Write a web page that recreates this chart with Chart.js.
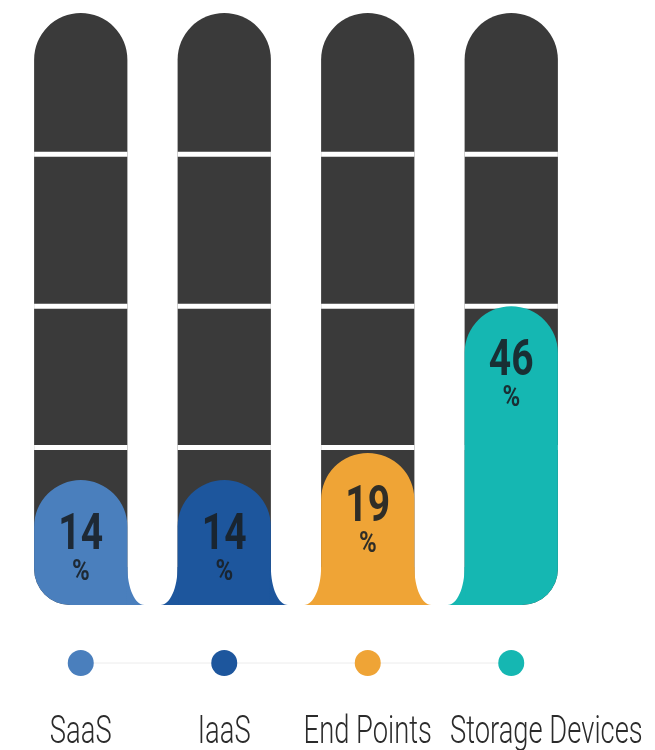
<!DOCTYPE html>
<html>
<head>
<meta charset="utf-8">
<script src="https://cdn.jsdelivr.net/npm/chart.js@4.4.1/dist/chart.umd.min.js"></script>
<style>
  html, body { margin: 0; padding: 0; background: #fff; }
  #wrap { width: 655px; height: 750px; }
</style>
</head>
<body>
<div id="wrap"><canvas id="chartShare" width="655" height="750"></canvas></div>
<script>
// Data
const categories = ['SaaS', 'IaaS', 'End Points', 'Storage Devices'];
const shares = [14, 14, 19, 46];
const fullScale = [100, 100, 100, 100];
const segmentTicks = [20, 46, 74];

// Style
const barColors = ['#4a7fbd', '#1d569d', '#efa436', '#15b7b2'];
const trackColor = '#3a3a3a';
const axisFloor = -9;
const labelFont = 'Roboto, "DejaVu Sans", sans-serif';

function cornerRadius(ctx) {
  const last = categories.length - 1;
  return {
    topLeft: 60, topRight: 60,
    bottomLeft: ctx.dataIndex === 0 ? 36 : 0,
    bottomRight: ctx.dataIndex === last ? 36 : 0
  };
}

// text squeezed horizontally to mimic a condensed face
function narrowText(c, text, x, y, squeeze) {
  c.save();
  c.translate(x, y);
  c.scale(squeeze, 1);
  c.fillText(text, 0, 0);
  c.restore();
}

const decorPlugin = {
  id: 'decor',
  afterDatasetDraw(chart, args) {
    const c = chart.ctx;
    const yScale = chart.scales.y;
    if (args.index === 1) {
      // white seams across the dark tracks
      c.save();
      c.strokeStyle = '#ffffff';
      c.lineWidth = 5;
      args.meta.data.forEach(bar => {
        const p = bar.getProps(['x', 'width'], true);
        segmentTicks.forEach(v => {
          const y = yScale.getPixelForValue(v);
          c.beginPath();
          c.moveTo(p.x - p.width / 2, y);
          c.lineTo(p.x + p.width / 2, y);
          c.stroke();
        });
      });
      c.restore();
    }
    if (args.index === 0) {
      const last = args.meta.data.length - 1;
      c.save();
      args.meta.data.forEach((bar, i) => {
        const p = bar.getProps(['x', 'y', 'base', 'width'], true);
        const left = p.x - p.width / 2;
        const right = p.x + p.width / 2;
        const fw = 17, fh = 38;
        c.fillStyle = barColors[i];
        // flared feet
        if (i > 0) {
          c.beginPath();
          c.moveTo(left + 1, p.base - fh);
          c.lineTo(left, p.base - fh);
          c.bezierCurveTo(left, p.base - fh * 0.45, left - fw * 0.45, p.base, left - fw, p.base);
          c.lineTo(left + 1, p.base);
          c.closePath();
          c.fill();
        }
        if (i < last) {
          c.beginPath();
          c.moveTo(right - 1, p.base - fh);
          c.lineTo(right, p.base - fh);
          c.bezierCurveTo(right, p.base - fh * 0.45, right + fw * 0.45, p.base, right + fw, p.base);
          c.lineTo(right - 1, p.base);
          c.closePath();
          c.fill();
        }
        // value labels
        c.fillStyle = 'rgba(26, 32, 38, 0.9)';
        c.textAlign = 'center';
        c.textBaseline = 'middle';
        c.font = 'bold 50px ' + labelFont;
        narrowText(c, String(shares[i]), p.x, p.y + 56, 0.78);
        c.font = 'bold 30px ' + labelFont;
        narrowText(c, '%', p.x, p.y + 92, 0.8);
      });
      c.restore();
    }
  },
  afterDraw(chart) {
    const c = chart.ctx;
    const bars = chart.getDatasetMeta(0).data;
    const dotY = 663;
    const labelY = 743;
    const squeeze = 0.72;
    const gap = 18;
    c.save();
    // connector line
    c.strokeStyle = '#ececec';
    c.lineWidth = 1;
    c.beginPath();
    c.moveTo(bars[0].x, dotY);
    c.lineTo(bars[bars.length - 1].x, dotY);
    c.stroke();
    let prevRight = -Infinity;
    bars.forEach((bar, i) => {
      c.fillStyle = barColors[i];
      c.beginPath();
      c.arc(bar.x, dotY, 13, 0, Math.PI * 2);
      c.fill();
      c.font = '300 38px ' + labelFont;
      c.fillStyle = '#2b2b2b';
      c.textAlign = 'center';
      c.textBaseline = 'alphabetic';
      const w = c.measureText(categories[i]).width * squeeze;
      // keep neighbouring labels from running into each other
      const cx = Math.max(bar.x, prevRight + gap + w / 2);
      prevRight = cx + w / 2;
      narrowText(c, categories[i], cx, labelY, squeeze);
    });
    c.restore();
  }
};

new Chart(document.getElementById('chartShare'), {
  type: 'bar',
  data: {
    labels: categories,
    datasets: [
      {
        label: 'Share',
        data: shares,
        backgroundColor: barColors,
        borderWidth: 0,
        borderSkipped: false,
        borderRadius: cornerRadius,
        base: axisFloor,
        grouped: false,
        order: 1,
        barPercentage: 0.65,
        categoryPercentage: 1
      },
      {
        label: 'Track',
        data: fullScale,
        backgroundColor: trackColor,
        borderWidth: 0,
        borderSkipped: false,
        borderRadius: cornerRadius,
        base: axisFloor,
        grouped: false,
        order: 2,
        barPercentage: 0.65,
        categoryPercentage: 1
      }
    ]
  },
  options: {
    responsive: false,
    animation: false,
    devicePixelRatio: 1,
    layout: { padding: { top: 13, bottom: 145, left: 9, right: 72 } },
    plugins: {
      legend: { display: false },
      tooltip: { enabled: false }
    },
    scales: {
      x: { display: false },
      y: { display: false, min: axisFloor, max: 100 }
    }
  },
  plugins: [decorPlugin]
});
</script>
</body>
</html>
